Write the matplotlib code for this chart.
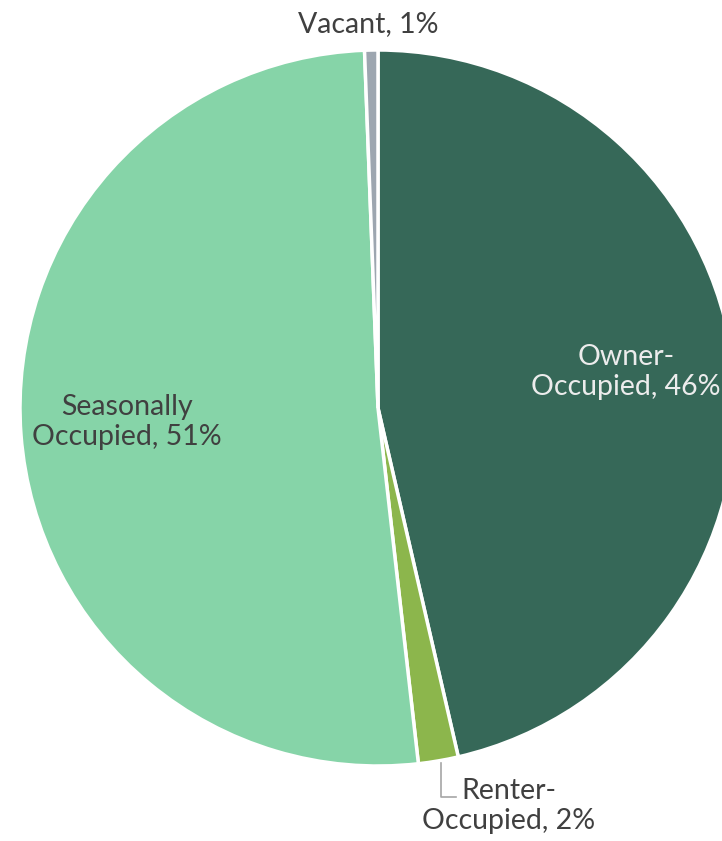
import matplotlib
matplotlib.use("Agg")
import matplotlib.pyplot as plt

categories = ["Owner-\nOccupied", "Renter-\nOccupied", "Seasonally\nOccupied", "Vacant"]
shares = [46.4, 1.8, 51.2, 0.6]
labels = ["46%", "2%", "51%", "1%"]
colors = ["#366858", "#8cb64c", "#86d4a8", "#9da6b0"]

plt.rcParams['font.family'] = ['Lato', 'DejaVu Sans']

W, H = 722, 841
cx, cy, r = 378, 408, 358

fig = plt.figure(figsize=(W / 100, H / 100), dpi=100)
ax = fig.add_axes([0, 0, 1, 1])

wedges, _ = ax.pie(shares, colors=colors, startangle=90, counterclock=False,
                   radius=1, wedgeprops=dict(edgecolor="white", linewidth=2.5))

ax.set_xlim(-cx / r, (W - cx) / r)
ax.set_ylim(-(H - cy) / r, cy / r)
ax.set_aspect("auto")
ax.axis("off")

def px(x, y):
    return (x - cx) / r, (cy - y) / r

txt = "#404040"
fs = 20.5
ls = 1.22
# Owner-Occupied (inside, white)
ax.text(*px(626, 372), f"{categories[0]}, {labels[0]}", ha="center", va="center",
        color="#ececec", fontsize=fs, linespacing=ls)
# Seasonally Occupied (inside)
ax.text(*px(127, 422), f"{categories[2]}, {labels[2]}", ha="center", va="center",
        color=txt, fontsize=fs, linespacing=ls)
# Vacant (outside top)
ax.text(*px(368, 24), f"{categories[3]}, {labels[3]}", ha="center", va="center",
        color=txt, fontsize=fs)
# Renter-Occupied (outside bottom with leader)
ax.text(*px(509, 806), f"{categories[1]}, {labels[1]}", ha="center", va="center",
        color=txt, fontsize=fs, linespacing=ls)
lx, ly = zip(px(441, 763), px(441, 797), px(456, 797))
ax.plot(lx, ly, color="#a6a6a6", linewidth=1.2, clip_on=False)

fig.savefig("out.png", dpi=100)
